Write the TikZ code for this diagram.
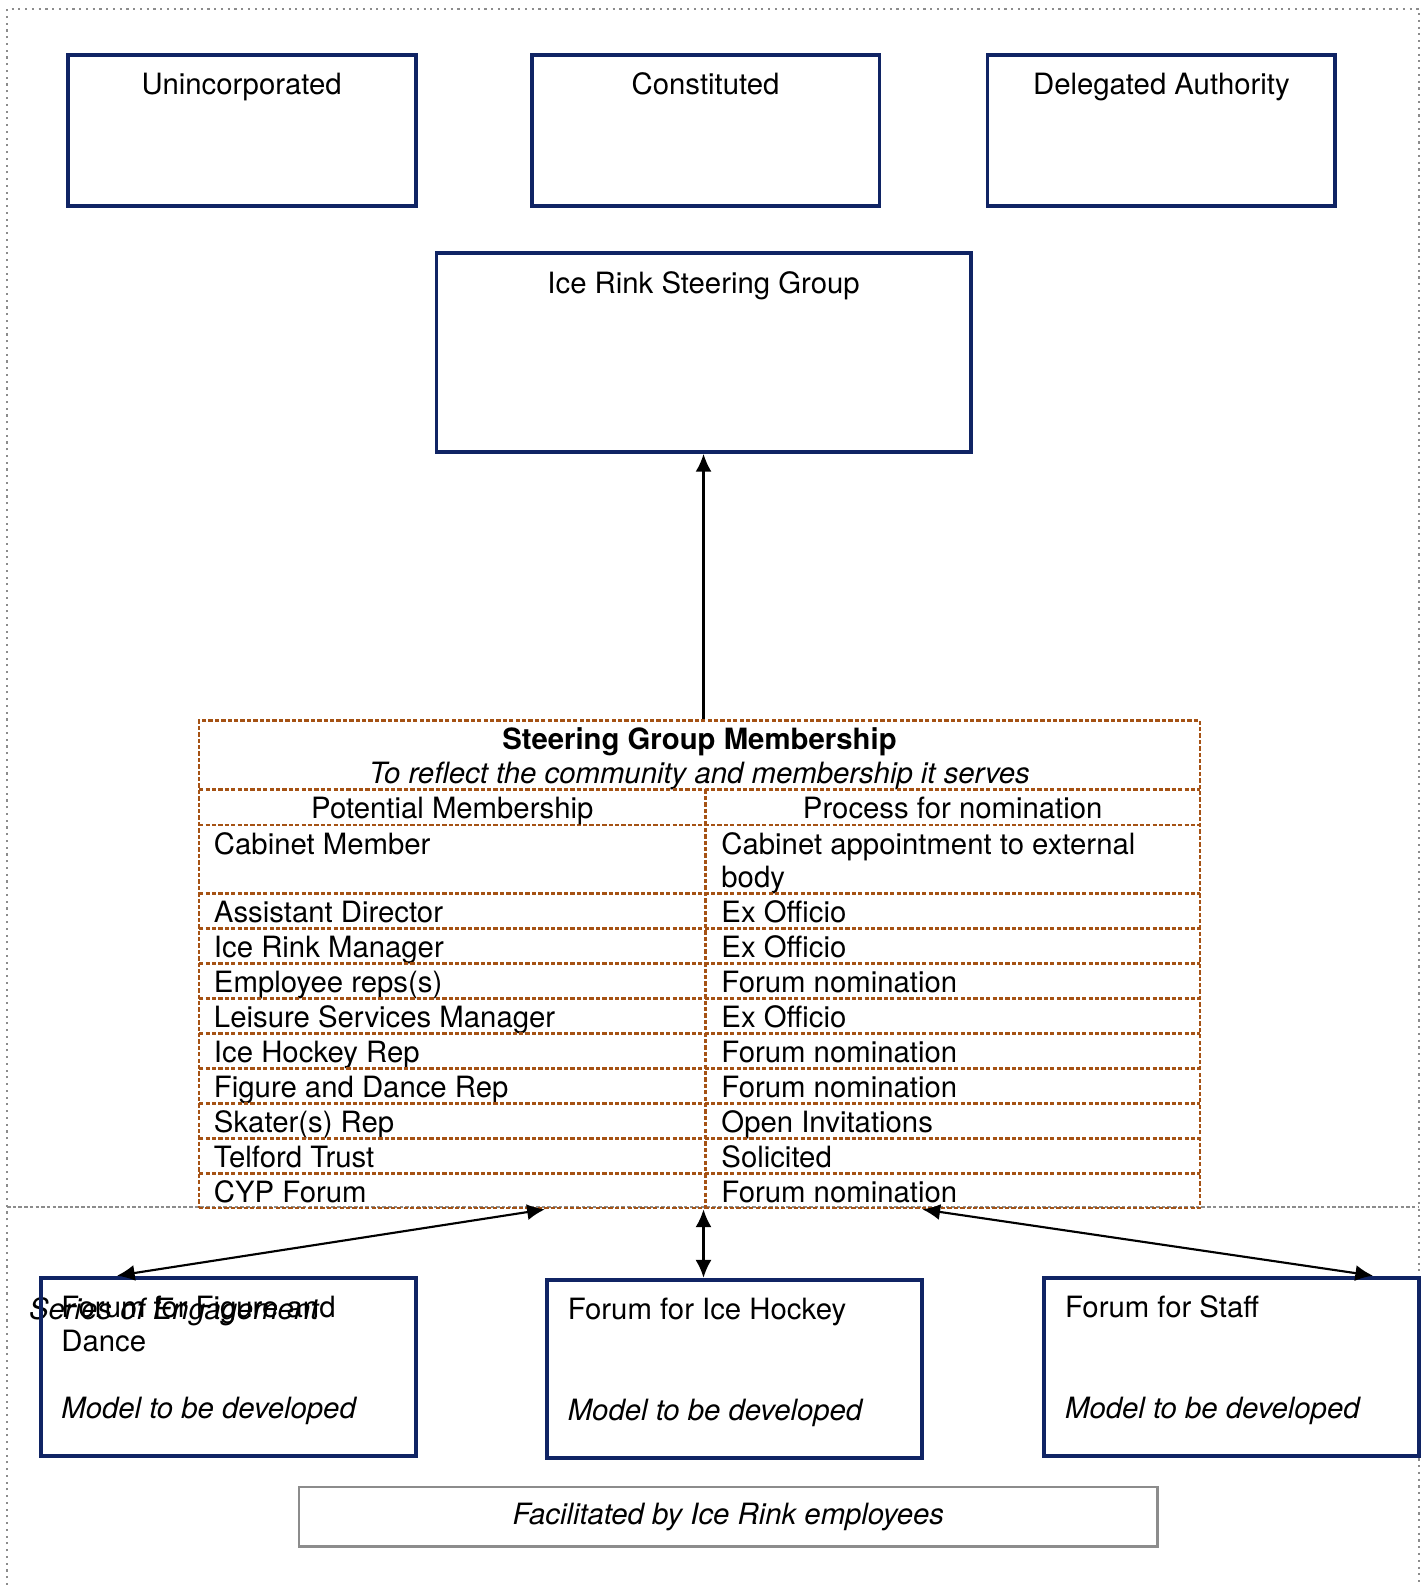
\documentclass[tikz,border=0pt]{standalone}
\usepackage{fontspec}
\setmainfont{TeX Gyre Heros}
\usetikzlibrary{arrows.meta,calc}
\definecolor{boxblue}{RGB}{16,36,100}
\definecolor{tablebrown}{RGB}{165,82,20}
\definecolor{framegray}{RGB}{140,140,140}

\begin{document}
\begin{tikzpicture}[x=0.01cm, y=-0.01cm, >={Latex[length=5pt,width=4.5pt]},
  font=\fontsize{8.25}{9.4}\selectfont,
  box/.style={draw=boxblue, line width=1.1pt, inner sep=0pt},
  head/.style={anchor=base, inner sep=0pt},
  cell/.style={anchor=base west, inner sep=0pt},
  grid/.style={draw=tablebrown, line width=0.7pt, dash pattern=on 1.2pt off 0.6pt},
  frame/.style={draw=framegray, line width=0.6pt, dash pattern=on 0.6pt off 1.3pt},
  link/.style={<->, line width=0.6pt}]
\useasboundingbox (0,0) rectangle (1412,1568);

% frames
\draw[frame] (7,1568) -- (7,9) -- (1404,9) -- (1404,1568);
\draw[framegray, line width=0.6pt, dash pattern=on 1pt off 0.6pt] (7,1194) -- (1404,1194);
\node[cell] (soe) at (28,1305) {\itshape Series of Engagement};

% top row
\node[box, minimum width=3.44cm, minimum height=1.5cm] (unc) at (239,129) {};
\node[head] at ([yshift=-0.415cm]unc.north) {Unincorporated};
\node[box, minimum width=3.44cm, minimum height=1.5cm] (con) at (698,129) {};
\node[head] at ([yshift=-0.415cm]con.north) {Constituted};
\node[box, minimum width=3.44cm, minimum height=1.5cm] (del) at (1149,129) {};
\node[head] at ([yshift=-0.415cm]del.north) {Delegated Authority};

\node[box, minimum width=5.28cm, minimum height=1.97cm] (irsg) at (696,348.5) {};
\node[head] at ([yshift=-0.425cm]irsg.north) {Ice Rink Steering Group};

% membership table
\node[grid, minimum width=9.9cm, minimum height=4.82cm] (sgm) at (692,954) {};
\node[head] (sgmtitle) at (692,741.5) {\bfseries Steering Group Membership};
\node[head] (sgmsub) at (692,775) {\itshape To reflect the community and membership it serves};
\draw[grid] (197,781) -- (1187,781);
\draw[grid] (197,816) -- (1187,816);
\draw[grid] (698,781) -- (698,1195);
\node[head] (hmem) at (447.5,809.5) {Potential Membership};
\node[head] (hnom) at (942.5,809.5) {Process for nomination};
\node[cell] (cab) at (211,845) {Cabinet Member};
\node[cell, align=left] (cabnom) at (713,878) {Cabinet appointment to external\\body};
\foreach \m/\p [count=\i from 0] in {Assistant Director/Ex Officio,
    Ice Rink Manager/Ex Officio, Employee reps(s)/Forum nomination,
    Leisure Services Manager/Ex Officio, Ice Hockey Rep/Forum nomination,
    Figure and Dance Rep/Forum nomination, Skater(s) Rep/Open Invitations,
    Telford Trust/Solicited, CYP Forum/Forum nomination}{
  \pgfmathsetmacro\y{884+34.6*\i}
  \draw[grid] (197,\y) -- (1187,\y);
  \node[cell] (mem\i) at (211,\y+28.5) {\m};
  \node[cell] (nom\i) at (713,\y+28.5) {\p};
}

% forums
\node[box, minimum width=3.7cm, minimum height=1.76cm] (fd) at (226,1352) {};
\node[cell, align=left] at ([xshift=0.21cm,yshift=-0.745cm]fd.north west) {Forum for Figure and\\Dance};
\node[cell] at ([xshift=0.21cm,yshift=-1.41cm]fd.north west) {\itshape Model to be developed};
\node[box, minimum width=3.71cm, minimum height=1.76cm] (ih) at (726.5,1354) {};
\node[cell] at ([xshift=0.22cm,yshift=-0.415cm]ih.north west) {Forum for Ice Hockey};
\node[cell] at ([xshift=0.22cm,yshift=-1.41cm]ih.north west) {\itshape Model to be developed};
\node[box, minimum width=3.71cm, minimum height=1.76cm] (st) at (1218.5,1352) {};
\node[cell] at ([xshift=0.22cm,yshift=-0.415cm]st.north west) {Forum for Staff};
\node[cell] at ([xshift=0.22cm,yshift=-1.41cm]st.north west) {\itshape Model to be developed};

\node[draw=framegray, line width=0.8pt, minimum width=8.49cm, minimum height=0.59cm] (fac) at (720.5,1500.5) {\itshape Facilitated by Ice Rink employees};

% connectors
\draw[->, line width=0.6pt] (irsg.south |- sgm.north) -- (irsg.south);
\coordinate (mid) at ($(sgm.south west)!0.504!(sgm.south east)$);
\draw[link] ($(sgm.south west)!0.346!(sgm.south east)$) -- ($(fd.north west)!0.205!(fd.north east)$);
\draw[link] (mid) -- (mid |- ih.north);
\draw[link] ($(sgm.south west)!0.722!(sgm.south east)$) -- ($(st.north west)!0.873!(st.north east)$);
\end{tikzpicture}
\end{document}
